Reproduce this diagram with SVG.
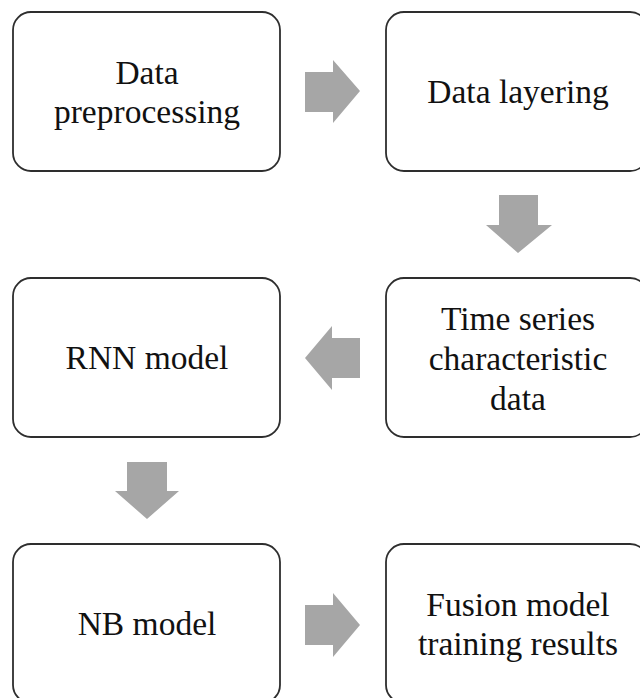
<svg xmlns="http://www.w3.org/2000/svg" width="640" height="698" viewBox="0 0 640 698">
<style>
.box{fill:#fff;stroke:#2e2e2e;stroke-width:1.8}
.t{font-family:"Liberation Serif","Times New Roman",serif;font-size:33.5px;fill:#111;text-anchor:middle}
.arr{fill:#a6a6a6}
</style>
<rect width="640" height="698" fill="#fff"/>
<g id="n1"><rect class="box" x="13" y="12" width="267" height="159" rx="18"/><text class="t" x="147" y="84">Data</text><text class="t" x="147" y="123">preprocessing</text></g>
<g id="n2"><rect class="box" x="386" y="12" width="262" height="159" rx="18"/><text class="t" x="518" y="103">Data layering</text></g>
<g id="n3"><rect class="box" x="386" y="278" width="262" height="159" rx="18"/><text class="t" x="518" y="330">Time series</text><text class="t" x="518" y="370">characteristic</text><text class="t" x="518" y="410">data</text></g>
<g id="n4"><rect class="box" x="13" y="278" width="267" height="159" rx="18"/><text class="t" x="147" y="369">RNN model</text></g>
<g id="n5"><rect class="box" x="13" y="544" width="267" height="159" rx="18"/><text class="t" x="147" y="635">NB model</text></g>
<g id="n6"><rect class="box" x="386" y="544" width="262" height="159" rx="18"/><text class="t" x="518" y="616">Fusion model</text><text class="t" x="518" y="655">training results</text></g>
<g id="connectors">
<polygon class="arr" points="305,72 333,72 333,60 360,91 333,123 333,112 305,112"/>
<polygon class="arr" points="499,195 538,195 538,225 552,225 518,253 486,225 499,225"/>
<polygon class="arr" points="360,338 332,338 332,326 305,358 332,390 332,378 360,378"/>
<polygon class="arr" points="127,462 167,462 167,491 179,491 147,519 115,491 127,491"/>
<polygon class="arr" points="305,605 333,605 333,593 360,625 333,657 333,645 305,645"/>
</g>
</svg>
